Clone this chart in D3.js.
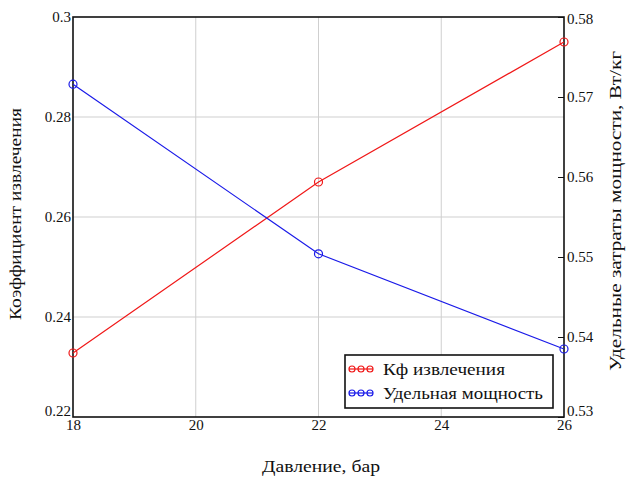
<!DOCTYPE html>
<html><head><meta charset="utf-8">
<script src="https://cdn.jsdelivr.net/npm/d3@7"></script>
<style>html,body{margin:0;padding:0;background:#fff;}</style>
</head><body>
<script>
const pressure = [18, 22, 26];
const extraction = [0.2328, 0.2670, 0.2950];
const specificPower = [0.5716, 0.5504, 0.5385];
const xTicks = [18, 20, 22, 24, 26];
const yLeftTicks = [0.22, 0.24, 0.26, 0.28, 0.3];
const yRightTicks = [0.53, 0.54, 0.55, 0.56, 0.57, 0.58];
const seriesNames = ["Кф извлечения", "Удельная мощность"];
const seriesColors = ["#f01818", "#1a1ae8"];
const FONT = '"Liberation Serif"';

const W = 626, H = 481;
const m = {left: 73, right: 62, top: 17, bottom: 64};
const svg = d3.select("body").append("svg").attr("width", W).attr("height", H);
const x = d3.scaleLinear().domain([18, 26]).range([m.left, W - m.right]);
const yL = d3.scaleLinear().domain([0.22, 0.3]).range([H - m.bottom, m.top]);
const yR = d3.scaleLinear().domain([0.53, 0.58]).range([H - m.bottom, m.top]);

// grid
svg.append("g").selectAll("line").data(xTicks.slice(1, -1)).join("line")
  .attr("x1", d => x(d)).attr("x2", d => x(d)).attr("y1", m.top).attr("y2", H - m.bottom)
  .attr("stroke", "#cfcfcf").attr("stroke-width", 1);
svg.append("g").selectAll("line").data(yLeftTicks.slice(1, -1)).join("line")
  .attr("y1", d => yL(d)).attr("y2", d => yL(d)).attr("x1", m.left).attr("x2", W - m.right)
  .attr("stroke", "#cfcfcf").attr("stroke-width", 1);

// axes
const fmt = d => String(+d.toFixed(2));
const gx = svg.append("g").attr("transform", `translate(0,${H - m.bottom})`)
  .call(d3.axisBottom(x).tickValues(xTicks).tickSize(0).tickPadding(6).tickFormat(d3.format("d")));
const gl = svg.append("g").attr("transform", `translate(${m.left},0)`)
  .call(d3.axisLeft(yL).tickValues(yLeftTicks).tickSize(0).tickPadding(2).tickFormat(fmt));
const gr = svg.append("g").attr("transform", `translate(${W - m.right},0)`)
  .call(d3.axisRight(yR).tickValues(yRightTicks).tickSizeInner(-6).tickSizeOuter(0).tickPadding(3).tickFormat(fmt));
[gx, gl, gr].forEach(g => {
  g.select(".domain").remove();
  g.attr("font-family", null);
  g.selectAll("text").attr("font-size", 15).attr("fill", "#111").style("font-family", FONT);
  g.selectAll("line").attr("stroke", "#111");
});
gl.selectAll("text").filter(d => d === 0.22).attr("dy", "-0.1em");
gr.selectAll("text").filter(d => d === 0.53).attr("dy", "-0.1em");
gr.selectAll("text").filter(d => d === 0.58).attr("dy", "0.4em");
gx.selectAll("text").attr("dy", "0.45em");

// frame
svg.append("rect").attr("x", m.left).attr("y", m.top)
  .attr("width", W - m.right - m.left).attr("height", H - m.bottom - m.top)
  .attr("fill", "none").attr("stroke", "#111").attr("stroke-width", 1.6);

// series
const sets = [
  {vals: extraction, y: yL, c: seriesColors[0]},
  {vals: specificPower, y: yR, c: seriesColors[1]}
];
sets.forEach(s => {
  const pts = pressure.map((p, i) => [p, s.vals[i]]);
  svg.append("path").datum(pts)
    .attr("d", d3.line().x(d => x(d[0])).y(d => s.y(d[1])))
    .attr("fill", "none").attr("stroke", s.c).attr("stroke-width", 1.2);
  svg.append("g").selectAll("circle").data(pts).join("circle")
    .attr("cx", d => x(d[0])).attr("cy", d => s.y(d[1])).attr("r", 4)
    .attr("fill", "none").attr("stroke", s.c).attr("stroke-width", 1.2);
});

// legend
const legendWidths = [122, 160];
const lg = svg.append("g");
lg.append("rect").attr("x", 345).attr("y", 355).attr("width", 208).attr("height", 53)
  .attr("fill", "#fff").attr("stroke", "#111").attr("stroke-width", 1.6);
seriesNames.forEach((n, i) => {
  const cy = 369 + i * 24;
  lg.append("line").attr("x1", 349).attr("x2", 373).attr("y1", cy).attr("y2", cy)
    .attr("stroke", seriesColors[i]).attr("stroke-width", 1.2);
  [352, 361, 370].forEach(cx => lg.append("circle").attr("cx", cx).attr("cy", cy).attr("r", 3)
    .attr("fill", "none").attr("stroke", seriesColors[i]).attr("stroke-width", 1.2));
  lg.append("text").attr("x", 383).attr("y", cy).attr("dy", "0.35em")
    .attr("font-size", 17.5).attr("fill", "#111").style("font-family", FONT)
    .attr("textLength", legendWidths[i]).attr("lengthAdjust", "spacingAndGlyphs").text(n);
});

// titles
svg.append("text").attr("x", 321).attr("y", 472)
  .attr("text-anchor", "middle").attr("font-size", 17).attr("fill", "#111").style("font-family", FONT)
  .attr("textLength", 118).attr("lengthAdjust", "spacingAndGlyphs").text("Давление, бар");
svg.append("text").attr("transform", "translate(21,214) rotate(-90)")
  .attr("text-anchor", "middle").attr("font-size", 17).attr("fill", "#111").style("font-family", FONT)
  .attr("textLength", 212).attr("lengthAdjust", "spacingAndGlyphs").text("Коэффициент извлечения");
svg.append("text").attr("transform", "translate(621,211) rotate(-90)")
  .attr("text-anchor", "middle").attr("font-size", 17).attr("fill", "#111").style("font-family", FONT)
  .attr("textLength", 320).attr("lengthAdjust", "spacingAndGlyphs").text("Удельные затраты мощности, Вт/кг");
</script>
</body></html>
